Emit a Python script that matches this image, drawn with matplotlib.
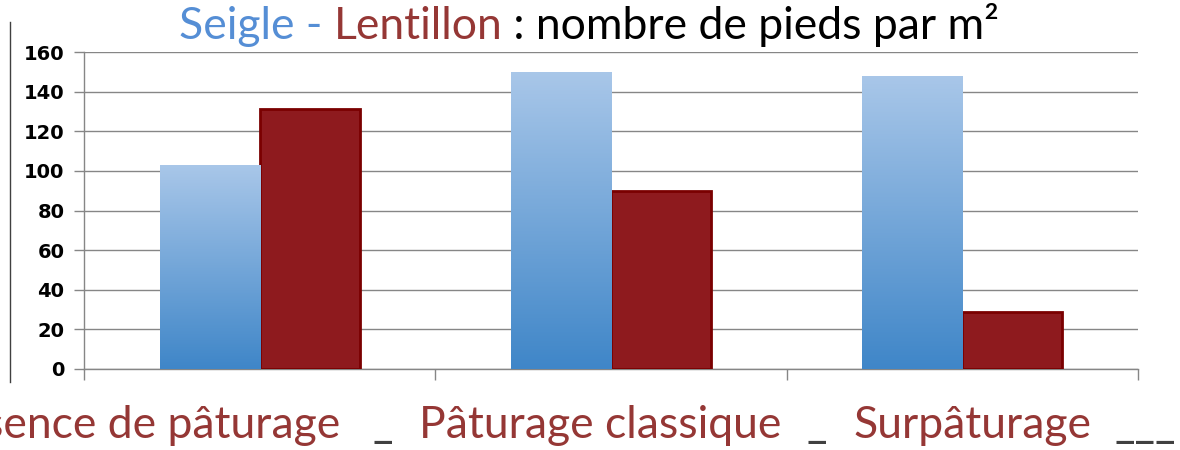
import matplotlib
matplotlib.use("Agg")
import matplotlib.pyplot as plt
import numpy as np
from matplotlib.colors import LinearSegmentedColormap
from matplotlib.lines import Line2D

# ---- chart data ----
categories = ["Absence de pâturage", "Pâturage classique", "Surpâturage"]
seigle = [103, 150, 148]
lentillon = [131, 90, 29]
y_ticks = [0, 20, 40, 60, 80, 100, 120, 140, 160]

BLUE_TXT = "#558ED5"
RED_TXT = "#953735"
FONT = "Lato"
BIG = 32

fig = plt.figure(figsize=(11.8, 4.5), dpi=100)
ax = fig.add_axes([84 / 1180, 1 - 369 / 450, (1138 - 84) / 1180, (369 - 52) / 450])

x = np.arange(len(categories))
w = 0.285
blue_bars = ax.bar(x - w / 2, seigle, w, color="none", edgecolor="none", zorder=3)
red_bars = ax.bar(x + w / 2, lentillon, w, color="#8E1A1E", edgecolor="#7A0000",
                  linewidth=2, zorder=3)

# vertical gradient inside each blue bar, light at the top
cmap = LinearSegmentedColormap.from_list("seigle", ["#3F86C8", "#A9C7E9"])
grad = np.linspace(0, 1, 256).reshape(-1, 1)
for bar in blue_bars:
    x0, h = bar.get_x(), bar.get_height()
    im = ax.imshow(grad, cmap=cmap, aspect="auto", origin="lower",
                   extent=[x0, x0 + bar.get_width(), 0, h], zorder=3)
    im.set_clip_path(bar)

ax.set_xlim(-0.5, len(categories) - 0.5)
ax.set_ylim(0, 160)
ax.set_yticks(y_ticks)
ax.set_yticklabels([str(v) for v in y_ticks], fontsize=14, fontweight="bold",
                   family="DejaVu Sans")
ax.set_xticks(np.arange(len(categories) + 1) - 0.5)
ax.set_xticklabels([])
ax.tick_params(axis="y", length=7, width=1, color="#868686", pad=7)
ax.tick_params(axis="x", length=8, width=1, color="#868686")
ax.yaxis.grid(True, color="#868686", linewidth=1)
ax.set_axisbelow(True)
for side in ["top", "right"]:
    ax.spines[side].set_visible(False)
for side in ["left", "bottom"]:
    ax.spines[side].set_color("#868686")
    ax.spines[side].set_linewidth(1)

# thin line at the far left
fig.add_artist(Line2D([10 / 1180, 10 / 1180], [1 - 22 / 450, 1 - 382 / 450],
                      color="#404040", linewidth=1))

# multi-coloured title
pieces = [("Seigle - ", BLUE_TXT), ("Lentillon", RED_TXT),
          (" : nombre de pieds par m²", "black")]
renderer = fig.canvas.get_renderer()
texts = [fig.text(0, 1 - 39 / 450, s, color=c, fontsize=BIG, family=FONT, va="baseline")
         for s, c in pieces]
widths = [t.get_window_extent(renderer).width for t in texts]
start = 589 - sum(widths) / 2
for t, wd in zip(texts, widths):
    t.set_x(start / 1180)
    start += wd

# category labels under the axis, separated by underscores
# (the first one runs off the left edge, as in the original slide)
base = 1 - 438 / 450
fig.text(340 / 1180, base, categories[0], color=RED_TXT, fontsize=BIG, family=FONT,
         ha="right", va="baseline")
fig.text(600 / 1180, base, categories[1], color=RED_TXT, fontsize=BIG, family=FONT,
         ha="center", va="baseline")
fig.text(972 / 1180, base, categories[2], color=RED_TXT, fontsize=BIG, family=FONT,
         ha="center", va="baseline")
for xl, s in [(372, "_"), (806, "_"), (1115, "___")]:
    fig.text(xl / 1180, base, s, color="#404040", fontsize=BIG, family=FONT,
             ha="left", va="baseline")

fig.savefig("out.png", dpi=100)
